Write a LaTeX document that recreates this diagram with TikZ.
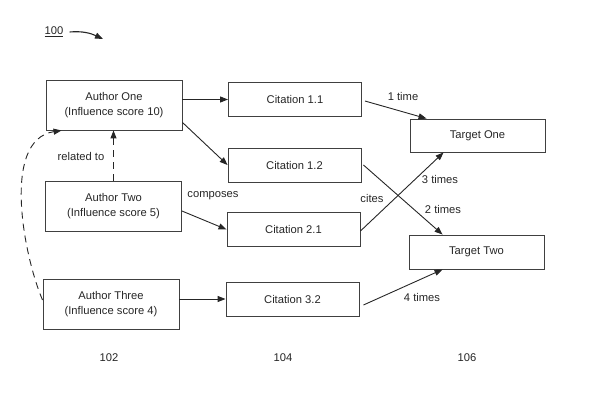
\documentclass[tikz,border=0pt]{standalone}
\usepackage{fontspec}
\setmainfont{Liberation Sans}
\usetikzlibrary{arrows.meta}
\begin{document}
\begin{tikzpicture}[x=1pt,y=-1pt,
  font=\fontsize{11.2}{14.5}\selectfont,
  every node/.style={text=black!85},
  box/.style={draw=black!75,line width=0.9pt,inner sep=0pt,align=center},
  abox/.style={box,minimum width=136pt,minimum height=50pt},
  cbox/.style={box,minimum width=133pt,minimum height=34pt},
  conn/.style={draw=black!85,line width=0.9pt,-{Triangle[length=8pt,width=6pt]}},
  dconn/.style={conn,dash pattern=on 7pt off 5pt},
  lbl/.style={inner sep=1pt}]
\useasboundingbox (0,0) rectangle (608,409);

\node[lbl] (l100) at (54,32) {\underline{100}};
\coordinate (p100) at (103,39);
\draw[conn,line width=1.1pt] ([xshift=5pt]l100.east) to[out=5,in=155] (p100);

\node[abox] (a1) at (114,105) {Author One\\(Influence score 10)};
\node[abox] (a2) at (113.5,206) {Author Two\\(Influence score 5)};
\node[abox] (a3) at (111,304) {Author Three\\(Influence score 4)};

\node[cbox] (c11) at (295,99.5) {Citation 1.1};
\node[cbox] (c12) at (294.5,165) {Citation 1.2};
\node[cbox] (c21) at (293.5,229.5) {Citation 2.1};
\node[cbox] (c32) at (292.5,299) {Citation 3.2};

\node[box,minimum width=135pt,minimum height=33pt] (t1) at (477.5,135.5) {Target One};
\node[box,minimum width=135pt,minimum height=34pt] (t2) at (476.5,252) {Target Two};

\draw[conn] (a1.east |- c11.west) -- (c11.west);
\draw[conn] ([yshift=8pt]a1.south east) -- (c12.west);
\draw[conn] ([yshift=-5pt]a2.east) -- (c21.west);
\draw[conn] (a3.east |- c32.west) -- (c32.west);

\draw[conn] ([xshift=3pt,yshift=-1.5pt]c11.east) -- ([xshift=17pt]t1.north west);
\draw[conn] ([xshift=2pt]c12.east) -- ([xshift=34pt]t2.north west);
\draw[conn] ([yshift=-1.5pt]c21.east) -- ([xshift=34pt]t1.south west);
\draw[conn] ([xshift=4pt,yshift=-6pt]c32.east) -- ([xshift=34pt]t2.south west);

\draw[dconn] (a2.north) -- (a2.north |- a1.south);
\draw[dconn] ([yshift=4pt]a3.west) .. controls (25,260) and (0,140) .. ([xshift=16pt]a1.south west);

\node[lbl] (lrel) at (81,156) {related to};
\node[lbl] (lcomp) at (213,196) {composes};
\node[lbl] (lcites) at (372,198) {cites};
\node[lbl] (l1) at (403,96) {1 time};
\node[lbl] (l3) at (440,179) {3 times};
\node[lbl] (l2) at (443,209) {2 times};
\node[lbl] (l4) at (422,297) {4 times};

\node[lbl] (n102) at (109,358) {102};
\node[lbl] (n104) at (283,358) {104};
\node[lbl] (n106) at (467,358) {106};
\end{tikzpicture}
\end{document}
